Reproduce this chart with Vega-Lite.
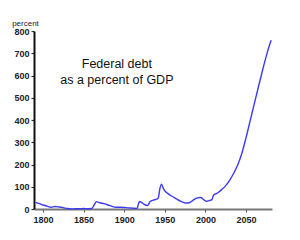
{
  "$schema": "https://vega.github.io/schema/vega-lite/v6.json",
  "width": 238,
  "height": 178,
  "autosize": {"type": "none"},
  "padding": {"left": 34, "top": 31, "right": 28, "bottom": 31},
  "background": "white",
  "config": {"view": {"stroke": null}, "font": "Liberation Sans"},
  "layer": [
    {
      "data": {"values": [
        {"year": 1791, "debt": 30}, {"year": 1795, "debt": 25}, {"year": 1800, "debt": 18},
        {"year": 1805, "debt": 13}, {"year": 1810, "debt": 8}, {"year": 1815, "debt": 11},
        {"year": 1820, "debt": 9}, {"year": 1825, "debt": 6}, {"year": 1830, "debt": 2},
        {"year": 1835, "debt": 0}, {"year": 1840, "debt": 1}, {"year": 1845, "debt": 1},
        {"year": 1850, "debt": 2}, {"year": 1855, "debt": 1}, {"year": 1860, "debt": 2},
        {"year": 1863, "debt": 18}, {"year": 1866, "debt": 33}, {"year": 1870, "debt": 28},
        {"year": 1875, "debt": 24}, {"year": 1880, "debt": 18}, {"year": 1885, "debt": 12},
        {"year": 1890, "debt": 8}, {"year": 1895, "debt": 8}, {"year": 1900, "debt": 7},
        {"year": 1905, "debt": 5}, {"year": 1910, "debt": 4}, {"year": 1916, "debt": 3},
        {"year": 1917, "debt": 15}, {"year": 1919, "debt": 34}, {"year": 1922, "debt": 28},
        {"year": 1925, "debt": 20}, {"year": 1929, "debt": 16}, {"year": 1932, "debt": 34},
        {"year": 1936, "debt": 40}, {"year": 1940, "debt": 44}, {"year": 1942, "debt": 50},
        {"year": 1944, "debt": 92}, {"year": 1946, "debt": 112}, {"year": 1948, "debt": 94},
        {"year": 1950, "debt": 82}, {"year": 1955, "debt": 66}, {"year": 1960, "debt": 55},
        {"year": 1965, "debt": 44}, {"year": 1970, "debt": 34}, {"year": 1975, "debt": 27},
        {"year": 1980, "debt": 28}, {"year": 1985, "debt": 40}, {"year": 1990, "debt": 50},
        {"year": 1994, "debt": 52}, {"year": 1997, "debt": 45}, {"year": 2001, "debt": 35},
        {"year": 2005, "debt": 38}, {"year": 2008, "debt": 42}, {"year": 2010, "debt": 62},
        {"year": 2015, "debt": 72}, {"year": 2020, "debt": 87}, {"year": 2025, "debt": 105},
        {"year": 2030, "debt": 130}, {"year": 2035, "debt": 162}, {"year": 2040, "debt": 200},
        {"year": 2045, "debt": 252}, {"year": 2050, "debt": 320}, {"year": 2055, "debt": 395},
        {"year": 2060, "debt": 470}, {"year": 2065, "debt": 545}, {"year": 2070, "debt": 618},
        {"year": 2075, "debt": 688}, {"year": 2080, "debt": 748}, {"year": 2081, "debt": 758}
      ]},
      "mark": {"type": "line", "color": "#3b3bf5", "strokeWidth": 1.4, "interpolate": "monotone"},
      "encoding": {
        "x": {"field": "year", "type": "quantitative",
          "scale": {"domain": [1789, 2082], "nice": false, "zero": false},
          "axis": {"values": [1800, 1850, 1900, 1950, 2000, 2050], "tickCount": 6, "format": "d", "title": null,
            "grid": false, "domainColor": "#777777", "domainWidth": 2, "tickColor": "#555555",
            "tickSize": 3, "labelFontSize": 9, "labelFontWeight": "bold", "labelColor": "#222222",
            "labelPadding": 3, "labelOverlap": false}},
        "y": {"field": "debt", "type": "quantitative",
          "scale": {"domain": [0, 800], "nice": false},
          "axis": {"values": [0, 100, 200, 300, 400, 500, 600, 700, 800], "tickCount": 9, "title": "percent",
            "titleAngle": 0, "titleX": -9, "titleY": -4, "titleAlign": "center",
            "titleFontSize": 8, "titleFontWeight": "normal", "titleColor": "#222222",
            "grid": false, "domainColor": "#111111", "domainWidth": 2, "tickColor": "#333333",
            "tickSize": 3, "tickWidth": 1.2, "labelFontSize": 9, "labelFontWeight": "bold", "labelColor": "#222222",
            "labelPadding": 2, "labelOverlap": false}}
      }
    },
    {
      "data": {"values": [{"year": 1891, "debt": 652, "label": "Federal debt\nas a percent of GDP"}]},
      "mark": {"type": "text", "lineBreak": "\n", "fontSize": 12.5, "lineHeight": 16,
        "align": "center", "baseline": "middle", "color": "#111111"},
      "encoding": {
        "x": {"field": "year", "type": "quantitative"},
        "y": {"field": "debt", "type": "quantitative"},
        "text": {"field": "label"}
      }
    }
  ]
}
